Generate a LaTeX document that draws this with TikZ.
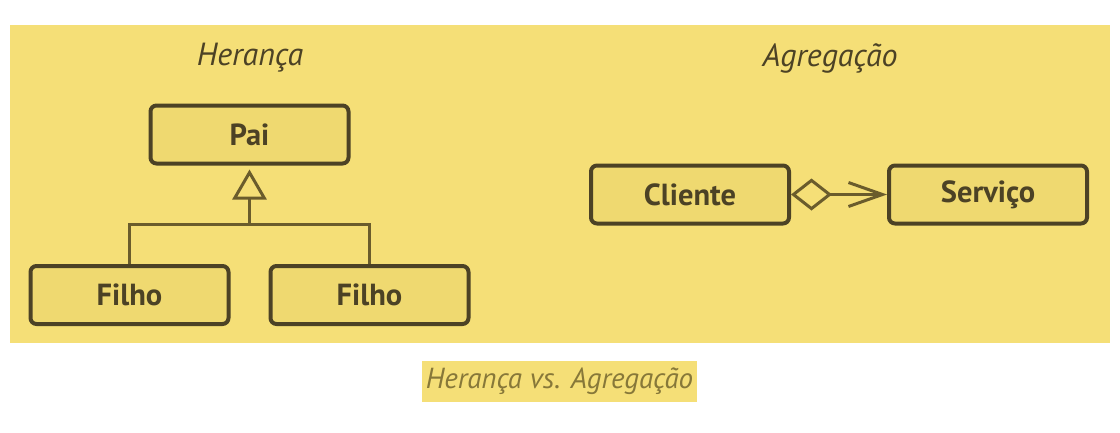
\documentclass[tikz,border=0pt]{standalone}
\usepackage{fontspec}
\setmainfont{PT Sans}
\usetikzlibrary{positioning,arrows.meta}

\definecolor{bgyellow}{HTML}{F5DF77}
\definecolor{boxfill}{HTML}{EFD970}
\definecolor{boxline}{HTML}{4C4225}
\definecolor{connline}{HTML}{6A5C2C}
\definecolor{captext}{HTML}{877839}

\tikzset{
  classbox/.style={draw=boxline, fill=boxfill, line width=4pt, rounded corners=6pt,
    minimum width=198pt, minimum height=58pt, inner sep=0pt,
    text=boxline, font=\fontsize{30.5}{34}\selectfont\bfseries},
  title/.style={text=boxline, font=\fontsize{32}{36}\selectfont\itshape},
  conn/.style={draw=connline, line width=3pt},
}

\begin{document}
\begin{tikzpicture}[x=1pt, y=-1pt]
            \useasboundingbox (0,0) rectangle (1120,432);
            \fill[bgyellow] (10,25) rectangle (1110,343);

            \node[title] (herTitle) at (250,58) {Herança};
            \node[title] (agrTitle) at (830,58) {Agregação};

            \node[classbox] (pai) at (249.5,134.5) {Pai};
            \node[classbox] (filho1) at (129.5,295) {Filho};
            \node[classbox, right=38pt of filho1] (filho2) {Filho};
            \coordinate[below=59pt of pai.south] (bar);

            \node[classbox] (cliente) at (690,194.5) {Cliente};
            \node[classbox, right=96pt of cliente] (servico) {Serviço};

            \draw[conn] (filho1.north) |- (bar) -| (filho2.north) ;
            \draw[conn, -{Triangle[open, length=30pt, width=34pt, line width=3pt]}, shorten >=4pt] (bar) -- (pai.south) ; %
            \draw[conn, {Diamond[open, length=41pt, width=32pt, line width=3pt]}-{Straight Barb[length=34pt, width=24pt, line width=3pt]}]
              (cliente.east) -- (servico.west) ;

            \node[fill=bgyellow, text=captext, font=\fontsize{29}{32}\selectfont\itshape,
              minimum width=275pt, minimum height=41pt, inner sep=0pt] (caption) at (559.5,381.5) {Herança vs. Agregação};
        \end{tikzpicture}
\end{document}
